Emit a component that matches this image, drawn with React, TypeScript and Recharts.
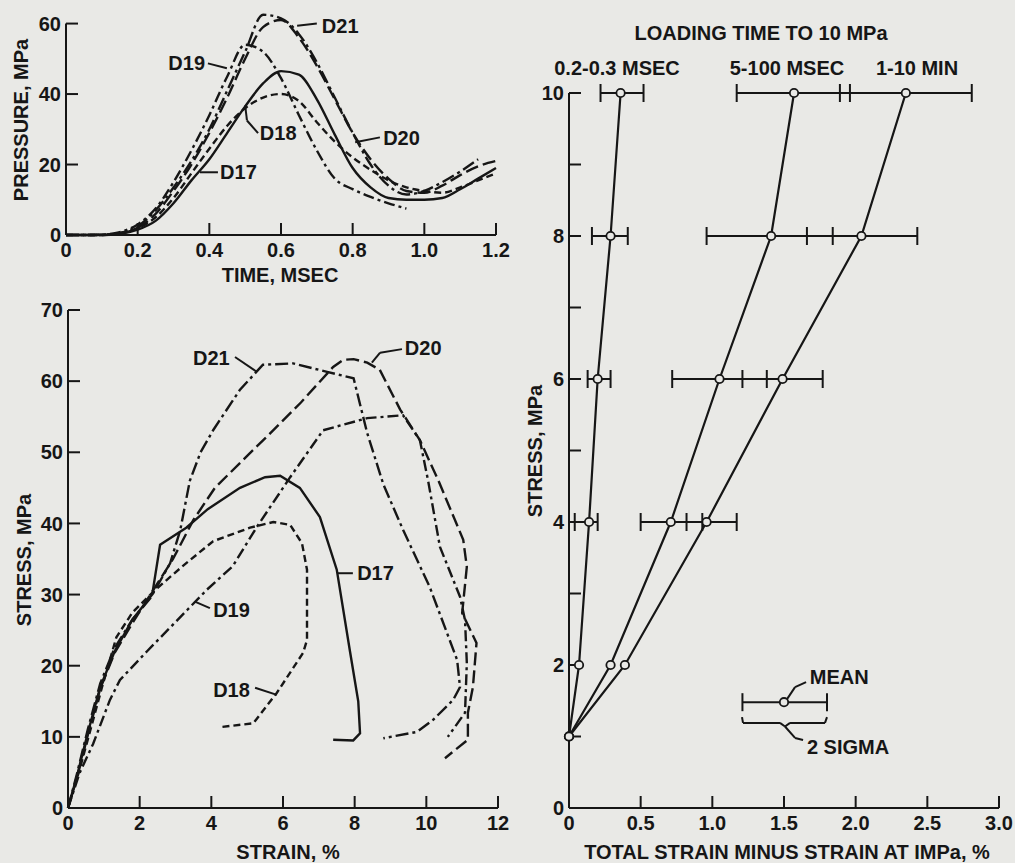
import {
  LineChart, Line, XAxis, YAxis, ReferenceLine, ReferenceDot,
  ScatterChart, Scatter, ErrorBar,
} from "recharts";

const INK = "#161616";
const PAPER = "#e9e9e6";
const FONT = "'Liberation Sans', Arial, Helvetica, sans-serif";

// pressure pulses, top left (MPa vs msec)
const timeMs = [0, 0.05, 0.1, 0.15, 0.2, 0.25, 0.3, 0.35, 0.4, 0.45, 0.5, 0.55, 0.6, 0.65, 0.7, 0.75, 0.8, 0.85, 0.9, 0.95, 1.0, 1.05, 1.1, 1.15, 1.2];
const d17Pressure = [0, 0, 0, 0.3, 1.5, 4, 9, 15.5, 21.5, 29, 36.5, 43, 46.5, 45.5, 38.5, 28.5, 19, 13.5, 10.5, 10, 10, 10.5, 13, 16, 19];
const d18Pressure = [0, 0, 0, 0.5, 2, 5, 10.5, 17.5, 24.5, 31, 36, 39, 40, 38, 32, 26.5, 22, 18.5, 15.5, 13.5, 12.5, 12, 13.5, 15.5, 17.5];
const d19Pressure = [0, 0, 0.1, 0.8, 3, 7.5, 15, 24, 34, 45, 54, 52, 44.5, 34, 24, 16, 13, 10.8, 9, 7.5, null, null, null, null, null];
const d20Pressure = [0, 0, 0, 0.4, 2, 6, 12.5, 20, 29, 39, 50, 59, 61, 56, 48, 38.5, 29, 21.5, 16, 12.5, 12, 14, 17, 19.5, 21];
const d21Pressure = [0, 0, 0.1, 0.6, 2.5, 7, 13.5, 21, 30, 41, 52, 62.5, 61.5, 57, 49, 39, 29, 20, 14, 11.5, 12.5, 15, 18, 21.5, null];
const timeTicks = [0, 0.2, 0.4, 0.6, 0.8, 1.0, 1.2];
const pressureTicks = [0, 20, 40, 60];

// stress-strain paths, bottom left (MPa vs %)
const d17Strain = [0, 0.25, 0.55, 0.9, 1.3, 1.8, 2.35, 2.57, 3.3, 3.9, 4.8, 5.5, 5.92, 6.47, 7.03, 7.5, 7.87, 8.1, 8.15, 7.96, 7.4];
const d17Stress = [0, 4.5, 10.5, 17, 22, 26.5, 30, 37, 39.4, 42, 45, 46.5, 46.7, 45, 40.9, 33.5, 22, 15, 10.5, 9.5, 9.6];
const d18Strain = [0, 0.3, 0.6, 0.95, 1.35, 1.8, 2.4, 3.2, 4.05, 5.08, 5.73, 6.2, 6.53, 6.67, 6.67, 6.56, 5.83, 5.17, 4.3];
const d18Stress = [0, 5, 10.5, 17, 24, 27.5, 30.5, 34, 37.5, 39.4, 40.2, 39.8, 37.2, 33.5, 23.6, 21.8, 16.2, 11.9, 11.4];
const d19Strain = [0, 0.33, 0.7, 1.17, 1.45, 2.2, 3.32, 3.88, 4.6, 5.27, 6.2, 7.12, 8.35, 9.35, 9.82, 10.05, 10.38, 10.94, 11.08, 11.13, 11.08, 10.6];
const d19Stress = [0, 5, 9, 15.2, 18, 22, 27.8, 30.7, 34, 39.5, 46.5, 53.1, 54.8, 55.2, 51.7, 46, 36.7, 29.7, 26.4, 20.4, 13.4, 10];
const d20Strain = [0, 0.25, 0.55, 0.9, 1.3, 1.8, 2.3, 2.93, 3.5, 4.1, 5.0, 5.55, 6.5, 7.4, 7.68, 7.97, 8.35, 8.7, 9.27, 9.82, 10.33, 11.03, 11.13, 11.0, 11.4, 11.3, 11.16, 11.16, 10.52];
const d20Stress = [0, 4.2, 10.2, 16.8, 21.8, 26, 30, 35, 40.5, 45, 49.5, 52.2, 57, 62, 63, 63.1, 62.6, 61.6, 56, 51.7, 46.1, 37.7, 33.9, 27.4, 23.2, 17, 13.4, 9.6, 7];
const d21Strain = [0, 0.25, 0.55, 0.9, 1.3, 1.8, 2.3, 2.85, 3.13, 3.4, 3.7, 4.05, 4.8, 5.44, 6.28, 7.23, 7.97, 8.35, 8.8, 9.35, 10.1, 10.86, 10.94, 10.75, 10.19, 9.74, 8.8];
const d21Stress = [0, 4.8, 11, 17.5, 22.5, 26.5, 29.5, 34.4, 39, 46, 50, 53.1, 58.8, 62.3, 62.5, 61.3, 60.4, 52.7, 45.5, 39.1, 31, 20.8, 17, 15.2, 12.4, 10.7, 9.8];
const strainTicks = [0, 2, 4, 6, 8, 10, 12];
const stressTicks = [0, 10, 20, 30, 40, 50, 60, 70];

// mean strain above 1 MPa with 2 sigma band, right
const stressLevels = [1, 2, 4, 6, 8, 10];
const fastMean = [0, 0.07, 0.14, 0.2, 0.29, 0.36];
const fastLow = [null, null, 0.04, 0.13, 0.16, 0.22];
const fastHigh = [null, null, 0.2, 0.29, 0.41, 0.52];
const midMean = [0, 0.29, 0.71, 1.05, 1.41, 1.57];
const midLow = [null, null, 0.5, 0.72, 0.96, 1.17];
const midHigh = [null, null, 0.93, 1.38, 1.84, 1.96];
const slowMean = [0, 0.39, 0.96, 1.49, 2.04, 2.35];
const slowLow = [null, null, 0.82, 1.21, 1.66, 1.89];
const slowHigh = [null, null, 1.17, 1.77, 2.43, 2.81];
const extraTicks = [0, 0.5, 1, 1.5, 2, 2.5, 3];
const levelTicks = [0, 1, 2, 3, 4, 5, 6, 7, 8, 9, 10];

const pulseRows = timeMs.map((t, i) => ({
  t, d17: d17Pressure[i], d18: d18Pressure[i], d19: d19Pressure[i], d20: d20Pressure[i], d21: d21Pressure[i],
}));
const path = (xs: number[], ys: number[]) => xs.map((x, i) => ({ x, y: ys[i] }));
const meanRows = (mean: number[], low: (number | null)[], high: (number | null)[]) =>
  stressLevels.map((y, i) => ({
    x: mean[i],
    y,
    ex: low[i] == null ? undefined : [mean[i] - (low[i] as number), (high[i] as number) - mean[i]],
  }));
const legendRows = [{ x: 1.5, y: 1.48, ex: [0.29, 0.3] }];

const tickFont = { fill: INK, fontSize: 20, fontWeight: 700, fontFamily: FONT };
const stroke2 = { stroke: INK, strokeWidth: 2 };
const decimal = (v: number) => (v === 0 ? "0" : v.toFixed(1));

const note = (key: string, x: number, y: number, text: string, anchor = "start") => (
  <ReferenceDot
    key={key} x={x} y={y} r={0} ifOverflow="visible"
    shape={(p: any) => (
      <text x={p.cx} y={p.cy} dy="0.36em" textAnchor={anchor} fill={INK}
        fontSize={20} fontWeight={700} fontFamily={FONT}>{text}</text>
    )}
  />
);
const pointer = (key: string, pts: { x: number; y: number }[]) =>
  pts.slice(1).map((p, i) => (
    <ReferenceLine key={key + i} segment={[pts[i], p]} stroke={INK} strokeWidth={2} ifOverflow="visible" />
  ));

const hollowDot = (p: any) => (
  <circle cx={p.cx} cy={p.cy} r={4.2} fill={PAPER} stroke={INK} strokeWidth={1.8} />
);

function Caption({ x, y, text, vertical }: { x: number; y: number; text: string; vertical?: boolean }) {
  return (
    <div style={{
      position: "absolute", left: x, top: y, whiteSpace: "nowrap", lineHeight: 1,
      transform: `translate(-50%, -50%)${vertical ? " rotate(-90deg)" : ""}`,
      fontFamily: FONT, fontWeight: 700, fontSize: 20, color: INK,
    }}>{text}</div>
  );
}

function PulseChart() {
  return (
    <LineChart width={520} height={290} data={pulseRows} margin={{ top: 13, right: 24, left: 0, bottom: 0 }}>
      <XAxis dataKey="t" type="number" domain={[0, 1.2]} ticks={timeTicks} tickFormatter={decimal}
        interval={0} height={55} tickSize={-12} tickMargin={20} tick={tickFont} axisLine={stroke2} tickLine={stroke2} />
      <YAxis type="number" domain={[0, 63]} ticks={pressureTicks} interval={0} width={66}
        tickSize={-12} tickMargin={17} tick={tickFont} axisLine={false} tickLine={stroke2} />
      <ReferenceLine segment={[{ x: 0, y: 0 }, { x: 0, y: 60 }]} stroke={INK} strokeWidth={2} />
      <Line dataKey="d17" type="monotone" stroke={INK} strokeWidth={2.4} dot={false} isAnimationActive={false} />
      <Line dataKey="d18" type="monotone" stroke={INK} strokeWidth={2.4} strokeDasharray="7 4" dot={false} isAnimationActive={false} />
      <Line dataKey="d19" type="monotone" stroke={INK} strokeWidth={2.4} strokeDasharray="11 4 3 4" dot={false} isAnimationActive={false} />
      <Line dataKey="d20" type="monotone" stroke={INK} strokeWidth={2.4} strokeDasharray="13 5" dot={false} isAnimationActive={false} />
      <Line dataKey="d21" type="monotone" stroke={INK} strokeWidth={2.4} strokeDasharray="13 4 3 4" dot={false} isAnimationActive={false} />
      {pointer("p21", [{ x: 0.645, y: 59.4 }, { x: 0.7, y: 60 }])}
      {note("n21", 0.714, 59.4, "D21")}
      {pointer("p19", [{ x: 0.396, y: 48.7 }, { x: 0.449, y: 47.3 }])}
      {note("n19", 0.388, 49, "D19", "end")}
      {pointer("p18", [{ x: 0.5, y: 36.8 }, { x: 0.505, y: 32.5 }, { x: 0.536, y: 28.9 }])}
      {note("n18", 0.541, 28.9, "D18")}
      {pointer("p17", [{ x: 0.374, y: 17.8 }, { x: 0.424, y: 17.8 }])}
      {note("n17", 0.43, 17.8, "D17")}
      {pointer("p20", [{ x: 0.807, y: 26.3 }, { x: 0.876, y: 27.7 }])}
      {note("n20", 0.885, 27.7, "D20")}
    </LineChart>
  );
}

function LoopChart() {
  return (
    <LineChart width={520} height={573} margin={{ top: 20, right: 22, left: 0, bottom: 0 }}>
      <XAxis dataKey="x" type="number" domain={[0, 12]} ticks={strainTicks} interval={0} height={55}
        tickSize={-12} tickMargin={20} tick={tickFont} axisLine={stroke2} tickLine={stroke2} />
      <YAxis type="number" domain={[0, 70]} ticks={stressTicks} interval={0} width={68}
        tickSize={-12} tickMargin={17} tick={tickFont} axisLine={stroke2} tickLine={stroke2} />
      <Line data={path(d17Strain, d17Stress)} dataKey="y" type="linear" stroke={INK} strokeWidth={2.4} dot={false} isAnimationActive={false} />
      <Line data={path(d18Strain, d18Stress)} dataKey="y" type="linear" stroke={INK} strokeWidth={2.4} strokeDasharray="7 4" dot={false} isAnimationActive={false} />
      <Line data={path(d19Strain, d19Stress)} dataKey="y" type="linear" stroke={INK} strokeWidth={2.4} strokeDasharray="11 4 3 4" dot={false} isAnimationActive={false} />
      <Line data={path(d20Strain, d20Stress)} dataKey="y" type="linear" stroke={INK} strokeWidth={2.4} strokeDasharray="13 5" dot={false} isAnimationActive={false} />
      <Line data={path(d21Strain, d21Stress)} dataKey="y" type="linear" stroke={INK} strokeWidth={2.4} strokeDasharray="13 4 3 4" dot={false} isAnimationActive={false} />
      {pointer("p21", [{ x: 4.66, y: 63.4 }, { x: 5.27, y: 61.3 }])}
      {note("n21", 3.49, 63.3, "D21")}
      {pointer("p20", [{ x: 8.48, y: 62.6 }, { x: 8.71, y: 64 }, { x: 9.32, y: 64.5 }])}
      {note("n20", 9.4, 64.7, "D20")}
      {pointer("p17", [{ x: 7.51, y: 33 }, { x: 7.95, y: 33 }])}
      {note("n17", 8.07, 33, "D17")}
      {pointer("p19", [{ x: 3.54, y: 29 }, { x: 3.96, y: 28.1 }])}
      {note("n19", 4.05, 27.8, "D19")}
      {pointer("p18", [{ x: 5.22, y: 16.9 }, { x: 5.83, y: 15.9 }])}
      {note("n18", 4.05, 16.6, "D18")}
    </LineChart>
  );
}

function RateChart() {
  const series = [meanRows(fastMean, fastLow, fastHigh), meanRows(midMean, midLow, midHigh), meanRows(slowMean, slowLow, slowHigh)];
  return (
    <ScatterChart width={495} height={863} margin={{ top: 93, right: 16, left: 0, bottom: 0 }}>
      <XAxis dataKey="x" type="number" domain={[0, 3]} ticks={extraTicks} tickFormatter={decimal} interval={0} height={55}
        tickSize={-12} tickMargin={20} tick={tickFont} axisLine={stroke2} tickLine={stroke2} />
      <YAxis dataKey="y" type="number" domain={[0, 10]} ticks={levelTicks} interval={0} width={49}
        tickFormatter={(v: number) => (v % 2 === 0 ? String(v) : "")}
        tickSize={-12} tickMargin={17} tick={tickFont} axisLine={stroke2} tickLine={stroke2} />
      {series.map((rows, i) => (
        <Scatter key={i} data={rows} isAnimationActive={false} line={{ stroke: INK, strokeWidth: 2.2 }} shape={hollowDot}>
          <ErrorBar dataKey="ex" direction="x" width={9} stroke={INK} strokeWidth={2} />
        </Scatter>
      ))}
      <Scatter data={legendRows} isAnimationActive={false} shape={hollowDot}>
        <ErrorBar dataKey="ex" direction="x" width={9} stroke={INK} strokeWidth={2} />
      </Scatter>
      {pointer("brace", [
        { x: 1.207, y: 1.27 }, { x: 1.214, y: 1.19 }, { x: 1.472, y: 1.19 }, { x: 1.507, y: 1.14 },
        { x: 1.542, y: 1.19 }, { x: 1.786, y: 1.19 }, { x: 1.8, y: 1.27 },
      ])}
      {pointer("sig", [{ x: 1.507, y: 1.14 }, { x: 1.577, y: 0.98 }, { x: 1.633, y: 0.95 }])}
      {pointer("mean", [{ x: 1.52, y: 1.52 }, { x: 1.577, y: 1.69 }, { x: 1.654, y: 1.76 }])}
      {note("nm", 1.68, 1.83, "MEAN")}
      {note("ns", 1.66, 0.85, "2 SIGMA")}
    </ScatterChart>
  );
}

export default function App() {
  return (
    <div style={{ position: "absolute", left: 0, top: 0, width: 1015, height: 863, background: PAPER, overflow: "hidden" }}>
      <div style={{ position: "absolute", left: 0, top: 0 }}><PulseChart /></div>
      <div style={{ position: "absolute", left: 0, top: 290 }}><LoopChart /></div>
      <div style={{ position: "absolute", left: 520, top: 0 }}><RateChart /></div>
      <Caption x={21} y={120} text="PRESSURE, MPa" vertical />
      <Caption x={280} y={275} text="TIME, MSEC" />
      <Caption x={24} y={560} text="STRESS, MPa" vertical />
      <Caption x={288} y={852} text="STRAIN, %" />
      <Caption x={535} y={451} text="STRESS, MPa" vertical />
      <Caption x={787} y={852} text="TOTAL STRAIN MINUS STRAIN AT IMPa, %" />
      <Caption x={761} y={33} text="LOADING TIME TO 10 MPa" />
      <Caption x={617} y={68} text="0.2-0.3 MSEC" />
      <Caption x={787} y={68} text="5-100 MSEC" />
      <Caption x={917} y={68} text="1-10 MIN" />
    </div>
  );
}
